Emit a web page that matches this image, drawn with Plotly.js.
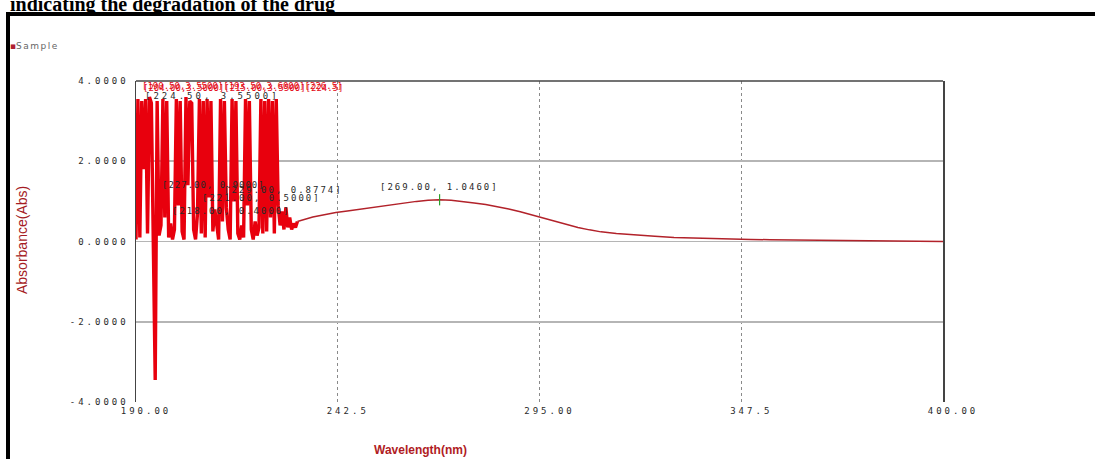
<!DOCTYPE html>
<html>
<head>
<meta charset="utf-8">
<script src="https://cdn.plot.ly/plotly-3.0.1.min.js"></script>
<style>
html, body { margin: 0; padding: 0; background: #ffffff; }
#chart { width: 1095px; height: 459px; }
.xtick text, .ytick text { letter-spacing: 3px; }
</style>
</head>
<body>
<div id="chart"></div>
<script>
// ---- data ----
const wlNoise = [190.0, 190.5, 191.0, 191.5, 192.0, 192.5, 193.0, 193.5, 194.0, 194.5,
  195.0, 195.5, 196.0, 196.5, 197.0, 197.5, 198.0, 198.5, 199.0, 199.5,
  200.0, 200.5, 201.0, 201.5, 202.0, 202.5, 203.0, 203.5, 204.0, 204.5,
  205.0, 205.5, 206.0, 206.5, 207.0, 207.5, 208.0, 208.5, 209.0, 209.5,
  210.0, 210.5, 211.0, 211.5, 212.0, 212.5, 213.0, 213.5, 214.0, 214.5,
  215.0, 215.5, 216.0, 216.5, 217.0, 217.5, 218.0, 218.5, 219.0, 219.5,
  220.0, 220.5, 221.0, 221.5, 222.0, 222.5, 223.0, 223.5, 224.0, 224.5,
  225.0, 225.5, 226.0, 226.5, 227.0, 227.5, 228.0, 228.5, 229.0, 229.5,
  230.0, 230.5, 231.0, 231.5, 232.0];
const absNoise = [0.05, 3.55, 0.10, 3.50, 1.80, 3.55, 0.20, 3.60, 3.45, 0.05,
  -3.45, 3.50, 0.15, 0.40, 3.55, 0.60, 3.50, 0.10, 0.45, 0.05,
  0.30, 3.55, 0.90, 3.50, 0.25, 0.05, 3.60, 1.40, 3.50, 3.45,
  0.30, 0.05, 0.70, 3.55, 0.20, 3.50, 0.10, 3.55, 1.10, 3.50,
  0.25, 0.80, 0.35, 0.05, 3.55, 0.50, 3.50, 0.85, 0.30, 0.05,
  3.55, 1.00, 3.50, 0.20, 0.05, 0.40, 0.10, 3.55, 0.90, 3.50,
  0.30, 0.05, 0.50, 0.15, 0.35, 3.55, 0.20, 3.50, 0.25, 3.55,
  0.60, 3.50, 0.20, 3.55, 0.90, 0.40, 0.75, 0.30, 0.85, 0.35,
  0.60, 0.30, 0.45, 0.35, 0.50];

const wlSmooth = [232, 234, 236, 238, 240, 242, 245, 248, 251, 254, 257, 260, 263, 266, 269,
  272, 275, 278, 281, 284, 287, 290, 293, 296, 299, 302, 305, 308, 311, 315, 320,
  325, 330, 335, 340, 345, 350, 355, 360, 370, 380, 390, 400];
const absSmooth = [0.50, 0.56, 0.61, 0.65, 0.69, 0.72, 0.76, 0.80, 0.84, 0.88, 0.93, 0.97, 1.00, 1.03, 1.04,
  1.03, 1.00, 0.96, 0.92, 0.87, 0.81, 0.74, 0.66, 0.58, 0.50, 0.42, 0.35, 0.29, 0.24, 0.20, 0.16,
  0.13, 0.10, 0.085, 0.07, 0.06, 0.05, 0.045, 0.04, 0.025, 0.015, 0.01, 0.00];

const peakX = [269.0];
const peakY = [1.04];
const peakLabel = ["[269.00, 1.0460]"];

const xTickVals = [190, 242.5, 295, 347.5, 400];
const xTickText = ["190.00", "242.5", "295.00", "347.5", "400.00"];
const yTickVals = [-4, -2, 0, 2, 4];
const yTickText = ["-4.0000", "-2.0000", "0.0000", "2.0000", "4.0000"];

const titleText = "indicating the degradation of the drug";
const seriesName = "Sample";
const xTitle = "Wavelength(nm)";
const yTitle = "Absorbance(Abs)";

// ---- layout helpers (pixel -> paper) ----
const L = 136, R = 152, T = 81, B = 57, W = 1095, H = 459;
const pw = W - L - R, ph = H - T - B;
const px = v => (v - L) / pw;
const py = v => (H - B - v) / ph;

const tickFont = { family: "DejaVu Sans Mono", size: 9, color: "#2a2a2a" };
const ls = (t, s) => '<span style="letter-spacing:' + s + 'px">' + t + '</span>';

const traces = [
  { x: wlNoise, y: absNoise, type: "scatter", mode: "lines", name: seriesName,
    line: { color: "#e8000d", width: 3.4 }, showlegend: false, hoverinfo: "skip" },
  { x: wlSmooth, y: absSmooth, type: "scatter", mode: "lines", name: seriesName,
    line: { color: "#b2222a", width: 1.5 }, showlegend: false, hoverinfo: "skip" },
  { x: peakX, y: peakY, type: "scatter", mode: "markers", showlegend: false,
    marker: { symbol: "line-ns-open", size: 8, line: { color: "#333", width: 1.2 } }, hoverinfo: "skip" }
];

const annotations = [
  { text: "<b>" + titleText + "</b>", xref: "paper", yref: "paper", x: px(8), y: py(18),
    xanchor: "left", yanchor: "bottom", showarrow: false,
    font: { family: "Liberation Serif", size: 20, color: "#000" } },
  { text: '<span style="color:#b02030">▪</span>' + ls(seriesName, 1.5), xref: "paper", yref: "paper",
    x: px(8), y: py(46), xanchor: "left", yanchor: "middle", showarrow: false,
    font: { family: "DejaVu Sans", size: 9, color: "#666" } },
  { text: yTitle, xref: "paper", yref: "paper", x: px(22), y: py(240), textangle: -90,
    xanchor: "center", yanchor: "middle", showarrow: false,
    font: { family: "Liberation Sans", size: 14, color: "#a51c24" } },
  { text: "<b>" + xTitle + "</b>", xref: "paper", yref: "paper", x: px(420), y: py(450),
    xanchor: "center", yanchor: "middle", showarrow: false,
    font: { family: "Liberation Sans", size: 12, color: "#b01c24" } },
  { text: ls(peakLabel[0], 2), xref: "x", yref: "y", x: peakX[0], y: peakY[0], yshift: 13,
    xanchor: "center", yanchor: "middle", showarrow: false, font: tickFont },
  // peak-pick labels crowding the noisy region
  { text: ls("[190.50,3.5500][193.50,3.6000][226.5]", 0), xref: "paper", yref: "paper",
    x: px(140), y: py(86), xanchor: "left", yanchor: "middle", showarrow: false,
    font: { family: "DejaVu Sans Mono", size: 9, color: "#e30613" } },
  { text: ls("[204.00,3.5000][215.00,3.5500][224.5]", 0), xref: "paper", yref: "paper",
    x: px(141), y: py(88), xanchor: "left", yanchor: "middle", showarrow: false,
    font: { family: "DejaVu Sans Mono", size: 9, color: "#e30613" } },
  { text: ls("[224.50, 3.5500]", 3), xref: "paper", yref: "paper",
    x: px(143), y: py(96), xanchor: "left", yanchor: "middle", showarrow: false, font: tickFont },
  { text: ls("[227.00, 0.9000]", 1), xref: "paper", yref: "paper",
    x: px(160), y: py(185), xanchor: "left", yanchor: "middle", showarrow: false, font: tickFont },
  { text: ls("[229.00, 0.8774]", 2), xref: "paper", yref: "paper",
    x: px(222), y: py(190), xanchor: "left", yanchor: "middle", showarrow: false, font: tickFont },
  { text: ls("[221.00, 0.5000]", 2), xref: "paper", yref: "paper",
    x: px(200), y: py(198), xanchor: "left", yanchor: "middle", showarrow: false, font: tickFont },
  { text: ls("[218.00, 0.4000]", 2), xref: "paper", yref: "paper",
    x: px(170), y: py(211), xanchor: "left", yanchor: "middle", showarrow: false, font: tickFont }
];

const shapes = [
  { type: "rect", xref: "paper", yref: "paper", x0: px(8), x1: 1.4, y0: -0.6, y1: py(14),
    line: { color: "#000", width: 4 }, fillcolor: "rgba(0,0,0,0)", layer: "above" },
  { type: "line", xref: "paper", yref: "paper", x0: 0, x1: 1, y0: 1, y1: 1,
    line: { color: "#444", width: 1.5 }, layer: "above" }
];

const layout = {
  width: W, height: H,
  margin: { l: L, r: R, t: T, b: B, pad: 0 },
  paper_bgcolor: "#ffffff", plot_bgcolor: "#ffffff",
  showlegend: false,
  xaxis: {
    range: [190, 400], tickmode: "array", tickvals: xTickVals, ticktext: xTickText,
    showgrid: true, gridcolor: "#8a8a8a", griddash: "dot", gridwidth: 1,
    zeroline: false, showline: false, ticks: "", tickfont: tickFont,
    ticklabelshift: 10, ticklabelstandoff: 2, fixedrange: true
  },
  yaxis: {
    range: [-4, 4], tickmode: "array", tickvals: yTickVals, ticktext: yTickText,
    showgrid: true, gridcolor: "#b5b5b5", gridwidth: 1.6,
    zeroline: false, showline: true, linecolor: "#444", linewidth: 1.5, mirror: true,
    ticks: "", tickfont: tickFont, ticklabelstandoff: 4, fixedrange: true
  },
  annotations: annotations,
  shapes: shapes
};

Plotly.newPlot("chart", traces, layout, { displayModeBar: false, staticPlot: true });
</script>
</body>
</html>
